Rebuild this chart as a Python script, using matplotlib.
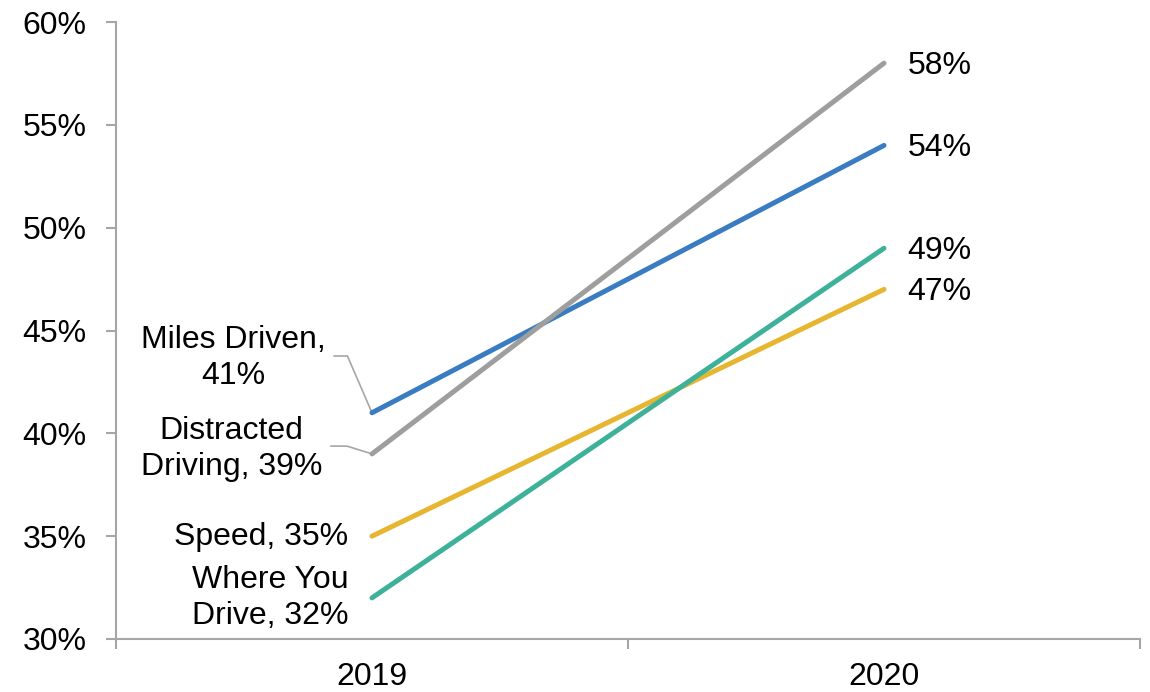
import matplotlib
matplotlib.use("Agg")
import matplotlib.pyplot as plt

plt.rcParams['font.family'] = ['Liberation Sans', 'DejaVu Sans']

years = ["2019", "2020"]
series_names = ["Miles Driven", "Distracted Driving", "Speed", "Where You Drive"]
miles_driven = [41, 54]
distracted_driving = [39, 58]
speed = [35, 47]
where_you_drive = [32, 49]
colors = ["#3A7CC2", "#9E9E9E", "#E6B631", "#3EB19A"]
y_ticks = [30, 35, 40, 45, 50, 55, 60]

FS = 23
LS = 1.25

fig = plt.figure(figsize=(11.5, 6.92), dpi=100)
ax = fig.add_axes([116/1150, 53/692, 1024/1150, 617/692])

all_series = [miles_driven, distracted_driving, speed, where_you_drive]
for vals, c in zip(all_series, colors):
    ax.plot([0, 1], vals, color=c, lw=3.6, solid_capstyle='round', zorder=3)

ax.set_xlim(-0.5, 1.5)
ax.set_ylim(30, 60)
ax.set_yticks(y_ticks)
ax.set_yticklabels([f"{v}%" for v in y_ticks])
ax.set_xticks([0, 1])
ax.set_xticklabels(years)
ax.set_xticks([-0.5, 0.5, 1.5], minor=True)
ax.tick_params(axis='x', which='major', length=0, pad=16.5, labelsize=FS)
ax.tick_params(axis='x', which='minor', length=7, width=1.5, color='#A6A6A6', direction='out')
ax.tick_params(axis='y', length=7, width=1.5, color='#A6A6A6', labelsize=FS, pad=14)
for s in ['top', 'right']:
    ax.spines[s].set_visible(False)
for s in ['left', 'bottom']:
    ax.spines[s].set_color('#A6A6A6')
    ax.spines[s].set_linewidth(1.5)

# right-side labels
for vals in all_series:
    ax.annotate(f"{vals[1]}%", xy=(1, vals[1]), xytext=(17, -2), textcoords='offset points',
                va='center', ha='left', fontsize=FS)

# left-side labels
ax.annotate(f"Miles Driven,\n{miles_driven[0]}%", xy=(0, miles_driven[0]), xytext=(-0.271, 43.65),
            ha='center', va='center', fontsize=FS, linespacing=LS)
ax.plot([-0.074, -0.048, 0], [43.76, 43.76, miles_driven[0]], color='#A6A6A6', lw=1.2, zorder=2)
ax.annotate(f"Distracted\nDriving, {distracted_driving[0]}%", xy=(0, distracted_driving[0]), xytext=(-0.275, 39.25),
            ha='center', va='center', fontsize=FS, linespacing=LS)
ax.plot([-0.08, -0.049, 0], [39.38, 39.38, distracted_driving[0]], color='#A6A6A6', lw=1.2, zorder=2)
ax.annotate(f"Speed, {speed[0]}%", xy=(0, speed[0]), xytext=(-0.047, speed[0] - 0.05),
            ha='right', va='center', fontsize=FS)
ax.annotate(f"Where You\nDrive, {where_you_drive[0]}%", xy=(0, where_you_drive[0]), xytext=(-0.045, 31.98),
            ha='right', va='center', fontsize=FS, linespacing=LS)

fig.savefig("out.png", dpi=100)
